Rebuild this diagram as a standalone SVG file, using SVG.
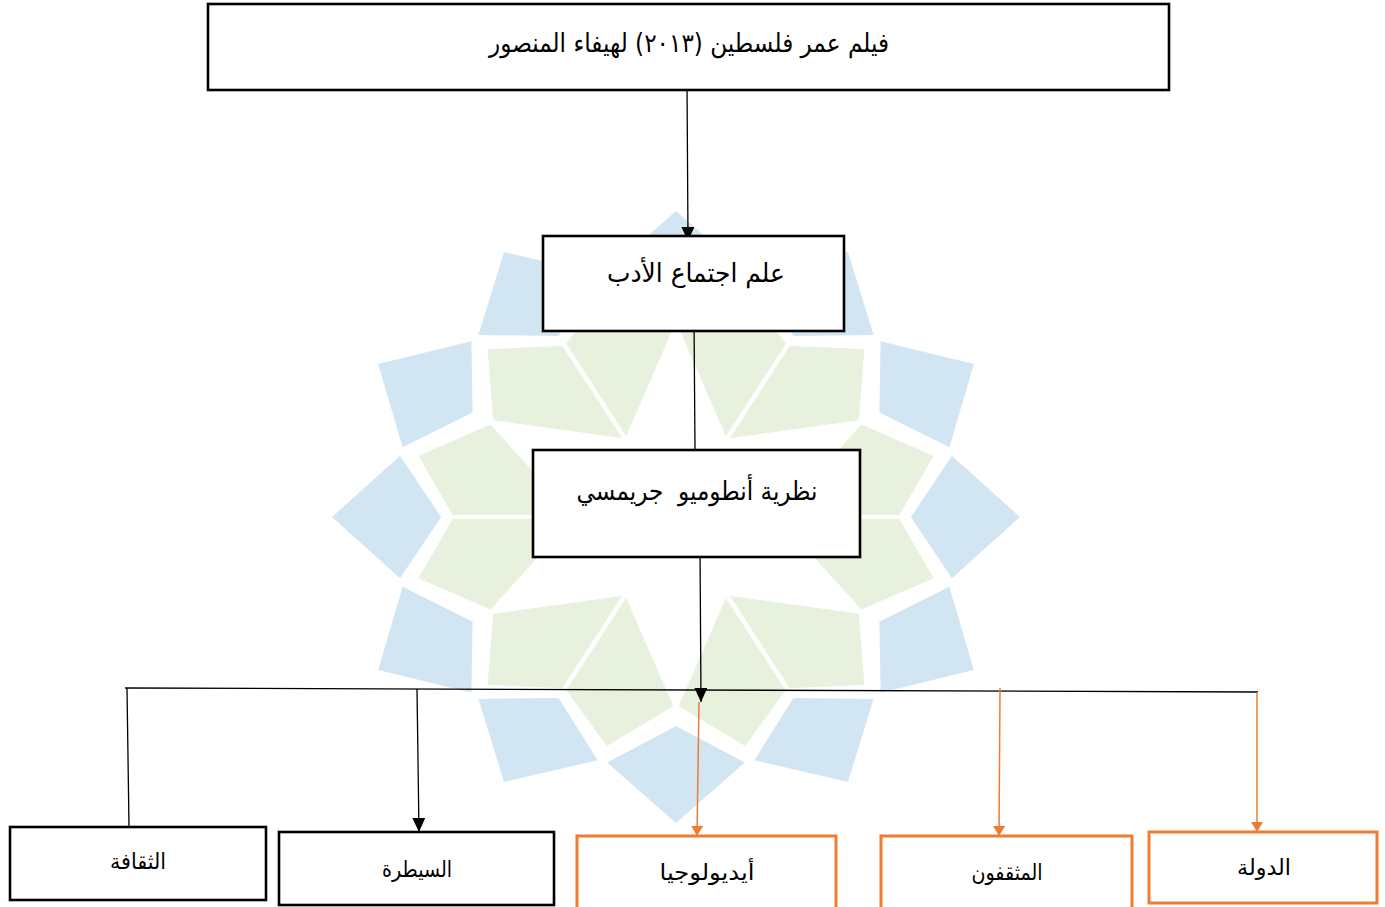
<svg xmlns="http://www.w3.org/2000/svg" xmlns:xlink="http://www.w3.org/1999/xlink" width="1385" height="907" viewBox="0 0 1385 907">
<defs>
<style>
.box{fill:#fff;stroke:#000;stroke-width:2.6}
.obox{fill:#fff;stroke:#ED7D31;stroke-width:3}
.lbl{font-family:"DejaVu Sans",sans-serif;fill:#000;text-anchor:middle;direction:rtl}
.ln{stroke:#000;stroke-width:1.3;fill:none}
.oln{stroke:#ED7D31;stroke-width:1.5;fill:none}
.bl{fill:#d2e5f3}
.gr{fill:#e7f1dd;stroke:#fff;stroke-width:4;stroke-linejoin:round}
</style>
<marker id="ah" viewBox="0 0 14 13" refX="14" refY="6.5" markerWidth="14" markerHeight="13" markerUnits="userSpaceOnUse" orient="auto"><path d="M0,0 L14,6.5 L0,13 z" fill="#000"/></marker>
<marker id="oah" viewBox="0 0 10 12" refX="10" refY="6" markerWidth="10" markerHeight="12" markerUnits="userSpaceOnUse" orient="auto"><path d="M0,0 L10,6 L0,12 z" fill="#ED7D31"/></marker>
<g id="unit">
<polygon class="gr" points="-44,-76.2 -100,-173.2 -62.1,-231.8 0,-190"/>
<polygon class="gr" points="-44,-76.2 -164.5,-95 -169.7,-169.7 -100,-173.2"/>
<polygon class="bl" points="-153,-265 -175.8,-182 -104.5,-181 -69.7,-243.2"/>
<polygon class="bl" points="-265,-153 -243.2,-69.7 -181,-104.5 -182,-175.8"/>
</g>
</defs>
<rect width="1385" height="907" fill="#fff"/>
<g id="watermark" transform="translate(676,517) scale(1.124,1)">
<use xlink:href="#unit"/>
<use xlink:href="#unit" transform="rotate(60)"/>
<use xlink:href="#unit" transform="rotate(120)"/>
<use xlink:href="#unit" transform="rotate(180)"/>
<use xlink:href="#unit" transform="rotate(240)"/>
<use xlink:href="#unit" transform="rotate(300)"/>
</g>
<g id="connectors">
<path class="ln" d="M687,82 L688,241" marker-end="url(#ah)"/>
<path class="ln" d="M694,319 L695,450"/>
<path class="ln" d="M700,548 L701,702" marker-end="url(#ah)"/>
<path class="ln" d="M125,688 L1258,692"/>
<path class="ln" d="M127,688 L129,827"/>
<path class="ln" d="M417,689 L419,832" marker-end="url(#ah)"/>
<path class="oln" d="M699,702 L697,836" marker-end="url(#oah)"/>
<path class="oln" d="M1000,688 L999,836" marker-end="url(#oah)"/>
<path class="oln" d="M1257,692 L1257,832" marker-end="url(#oah)"/>
</g>
<g id="n_film">
<rect class="box" x="208" y="4" width="961" height="86"/>
<text class="lbl" x="689" y="52" font-size="26" textLength="400" lengthAdjust="spacingAndGlyphs">فيلم عمر فلسطين (٢٠١٣) لهيفاء المنصور</text>
</g>
<g id="n_sociology">
<rect class="box" x="543" y="236" width="301" height="95"/>
<text class="lbl" x="696" y="282" font-size="26" textLength="178" lengthAdjust="spacingAndGlyphs">علم اجتماع الأدب</text>
</g>
<g id="n_gramsci">
<rect class="box" x="533" y="450" width="327" height="107"/>
<text class="lbl" x="697" y="500" font-size="26" textLength="241" lengthAdjust="spacingAndGlyphs" xml:space="preserve" style="white-space:pre">نظرية أنطوميو  جريمسي</text>
</g>
<g id="n_culture">
<rect class="box" x="10" y="827" width="256" height="73"/>
<text class="lbl" x="138" y="869" font-size="22" textLength="56" lengthAdjust="spacingAndGlyphs">الثقافة</text>
</g>
<g id="n_hegemony">
<rect class="box" x="279" y="832" width="275" height="73"/>
<text class="lbl" x="417" y="877" font-size="22" textLength="70" lengthAdjust="spacingAndGlyphs">السيطرة</text>
</g>
<g id="n_ideology">
<rect class="obox" x="577" y="836" width="259" height="80"/>
<text class="lbl" x="707" y="880" font-size="22" textLength="95" lengthAdjust="spacingAndGlyphs">أيديولوجيا</text>
</g>
<g id="n_intellectuals">
<rect class="obox" x="881" y="836" width="251" height="80"/>
<text class="lbl" x="1007" y="880" font-size="22" textLength="71" lengthAdjust="spacingAndGlyphs">المثقفون</text>
</g>
<g id="n_state">
<rect class="obox" x="1149" y="832" width="228" height="71"/>
<text class="lbl" x="1264" y="875" font-size="22" textLength="54" lengthAdjust="spacingAndGlyphs">الدولة</text>
</g>
</svg>
